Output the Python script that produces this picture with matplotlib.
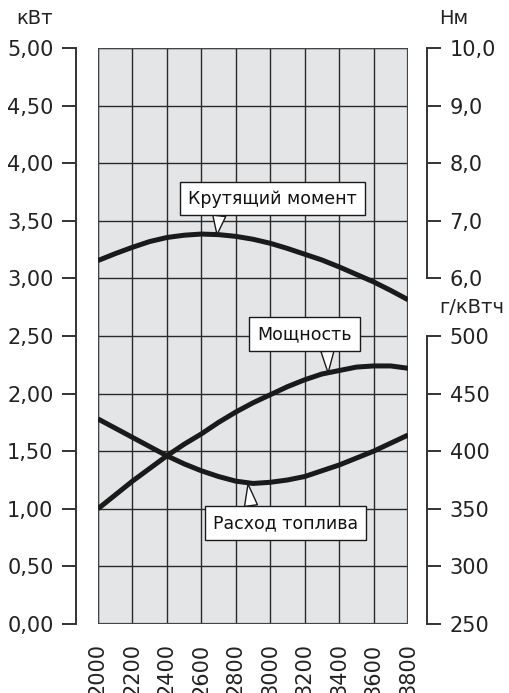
import matplotlib
matplotlib.use("Agg")
import matplotlib.pyplot as plt
from matplotlib.ticker import FuncFormatter

# rpm readings (every 100 rpm)
rpm = [2000, 2100, 2200, 2300, 2400, 2500, 2600, 2700, 2800, 2900,
       3000, 3100, 3200, 3300, 3400, 3500, 3600, 3700, 3800]
# power, kW
power = [1.00, 1.12, 1.24, 1.35, 1.46, 1.56, 1.65, 1.75, 1.84, 1.92,
         1.99, 2.06, 2.12, 2.17, 2.20, 2.23, 2.24, 2.24, 2.22]
# torque, Nm
torque = [6.31, 6.43, 6.54, 6.64, 6.71, 6.75, 6.77, 6.76, 6.73, 6.68,
          6.61, 6.52, 6.42, 6.32, 6.20, 6.07, 5.94, 5.79, 5.63]
# specific fuel consumption, g/kWh
fuel = [428, 420, 412, 404, 396, 389, 383, 378, 374, 372,
        373, 375, 378, 383, 388, 394, 400, 407, 414]

rpm_ticks = [2000, 2200, 2400, 2600, 2800, 3000, 3200, 3400, 3600, 3800]
kw_ticks = [0, 0.5, 1, 1.5, 2, 2.5, 3, 3.5, 4, 4.5, 5]
nm_ticks = [6, 7, 8, 9, 10]
g_ticks = [250, 300, 350, 400, 450, 500]

dark = "#1a1a1a"
spine_col = "#333333"
txt_col = "#222222"

fig = plt.figure(figsize=(5.09, 6.93), dpi=100)
ax = fig.add_axes([0.1925, 0.0996, 0.6091, 0.8311])
ax.set_facecolor("#e4e5e7")
ax.set_xlim(2000, 3800)
ax.set_ylim(0, 5)
ax.set_xticks(rpm_ticks)
ax.set_yticks(kw_ticks)
ax.grid(True, color="#2a2a2a", linewidth=1.0)
ax.set_axisbelow(True)

for s in ["top", "right", "bottom"]:
    ax.spines[s].set_visible(False)
ax.spines["left"].set_position(("outward", 16))
ax.spines["left"].set_color(spine_col)
ax.spines["left"].set_linewidth(1.4)
ax.tick_params(axis="y", direction="out", length=10, width=1.4, color=spine_col,
               labelsize=15, pad=6, labelcolor=txt_col)
ax.tick_params(axis="x", length=0, labelsize=15, pad=14, labelrotation=90,
               labelcolor=txt_col)
ax.yaxis.set_major_formatter(FuncFormatter(lambda v, p: f"{v:.2f}".replace(".", ",")))

# frame of the grid area
for xv in (2000, 3800):
    ax.axvline(xv, color="#444444", linewidth=1.6, zorder=1.5)
for yv in (0, 5):
    ax.axhline(yv, color="#444444", linewidth=1.6, zorder=1.5)

# torque axis (upper right)
ax_nm = ax.twinx()
ax_nm.set_ylim(0, 10)
ax_nm.set_yticks(nm_ticks)
ax_nm.spines["right"].set_bounds(6, 10)
# fuel axis (lower right)
ax_g = ax.twinx()
ax_g.set_ylim(250, 750)
ax_g.set_yticks(g_ticks)
ax_g.spines["right"].set_bounds(250, 500)

for a, fmt in ((ax_nm, lambda v, p: f"{v:.1f}".replace(".", ",")),
               (ax_g, lambda v, p: f"{v:.0f}")):
    for s in ["top", "left", "bottom"]:
        a.spines[s].set_visible(False)
    a.spines["right"].set_position(("outward", 14))
    a.spines["right"].set_color(spine_col)
    a.spines["right"].set_linewidth(1.4)
    a.tick_params(axis="y", direction="out", length=10, width=1.4, color=spine_col,
                  labelsize=15, pad=6, labelcolor=txt_col)
    a.yaxis.set_major_formatter(FuncFormatter(fmt))

ax.plot(rpm, power, color=dark, linewidth=3.6, solid_capstyle="butt", zorder=3)
ax_nm.plot(rpm, torque, color=dark, linewidth=3.6, solid_capstyle="butt", zorder=3)
ax_g.plot(rpm, fuel, color=dark, linewidth=3.6, solid_capstyle="butt", zorder=3)

box = dict(boxstyle="square,pad=0.45", fc="white", ec=dark, lw=1.0)


def callout(a, text, xy, off, relpos):
    a.annotate(text, xy=xy, xytext=off, textcoords="offset points",
               ha="center", va="center", fontsize=12.5, color="#111111",
               bbox=box, zorder=5,
               arrowprops=dict(arrowstyle="wedge,tail_width=0.75,shrink_factor=0.5",
                               fc="white", ec=dark, lw=1.0, relpos=relpos,
                               shrinkA=0, shrinkB=0))


callout(ax_nm, "Крутящий момент", (2691, 6.76), (40, 26), (0.19, 0.0))
callout(ax, "Мощность", (3336, 2.18), (-17, 28), (0.74, 0.0))
callout(ax_g, "Расход топлива", (2871, 371.5), (27, -28), (0.27, 1.0))

fig.text(35 / 509, 1 - 18 / 693, "кВт", ha="center", va="center", fontsize=14,
         color=txt_col)
fig.text(454 / 509, 1 - 18 / 693, "Нм", ha="center", va="center", fontsize=14,
         color=txt_col)
fig.text(472 / 509, 1 - 307 / 693, "г/кВтч", ha="center", va="center", fontsize=14,
         color=txt_col)

fig.savefig("out.png", dpi=100)
